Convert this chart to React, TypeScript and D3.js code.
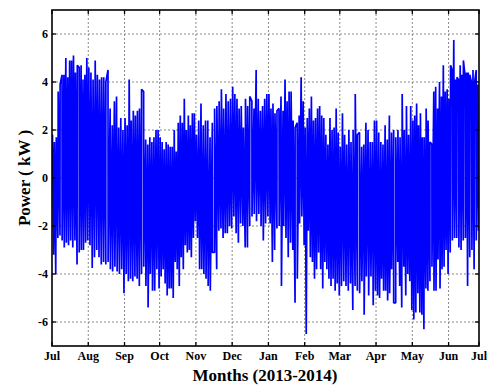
import React from 'react';
import * as d3 from 'd3';

// month ticks (days from 1 Jul 2013)
const monthLabels = ['Jul', 'Aug', 'Sep', 'Oct', 'Nov', 'Dec', 'Jan', 'Feb', 'Mar', 'Apr', 'May', 'Jun', 'Jul'];
const monthStartDays = [0, 31, 62, 92, 123, 154, 185, 216, 246, 277, 308, 339, 365];
const yTickValues = [-6, -4, -2, 0, 2, 4, 6];

// upper swings (kW)
const peaks = [
  [1.8, 1.5, 1.7, 3.6, 3.9, 4.3, 4.3, 5.0, 4.2, 4.9, 4.9, 5.1, 4.4, 4.7, 4.6, 4.7, 4.1, 4.3, 5.0], // Jul
  [4.6, 4.4, 4.1, 4.9, 4.3, 4.1, 4.2, 4.2, 4.0, 4.5, 2.9, 2.2, 3.2, 3.4, 2.1, 2.5, 2.0], // Aug
  [2.5, 2.2, 4.1, 2.4, 2.8, 2.6, 2.8, 2.9, 3.7, 3.6, 1.6, 1.4, 1.7, 1.5, 1.7, 2.0, 2.0], // Sep
  [1.7, 1.5, 1.2, 1.5, 1.4, 1.3, 1.3, 2.0, 1.1, 2.3, 2.6, 2.3, 3.3, 2.0, 2.6, 2.2, 2.7, 2.7], // Oct
  [1.8, 2.4, 3.1, 2.2, 2.4, 2.4, 1.7, 2.3, 2.9, 3.0, 3.2, 3.7, 2.9, 3.5, 3.2, 3.3], // Nov
  [3.8, 3.5, 3.3, 2.9, 3.0, 2.1, 3.3, 3.0, 3.4, 3.2, 2.9, 4.5, 3.3, 2.8, 3.0, 3.3, 3.5], // Dec
  [3.5, 2.9, 3.1, 2.7, 2.8, 2.9, 3.4, 2.8, 4.1, 3.2, 3.6, 3.6, 2.4, 2.1, 2.3, 2.6, 4.2, 3.2], // Jan
  [2.1, 2.5, 2.9, 3.4, 2.4, 2.5, 2.9, 3.0, 2.6, 2.5, 1.8, 1.4, 2.5, 2.0, 2.1, 2.9, 1.9], // Feb
  [1.3, 2.7, 1.8, 1.4, 2.0, 1.5, 2.0, 3.5, 1.8, 1.9, 1.3, 1.4, 2.3, 2.0, 1.5, 1.5, 2.4], // Mar
  [2.4, 1.9, 1.5, 1.4, 2.2, 1.6, 2.6, 1.9, 2.0, 1.7, 2.0, 1.7, 3.5, 2.0, 3.0, 1.8, 3.0], // Apr
  [2.4, 2.6, 3.1, 2.2, 2.7, 1.7, 1.7, 2.9, 2.4, 1.5, 1.4, 3.6, 3.8, 2.9, 4.0, 3.4, 4.7, 3.6, 3.7], // May
  [3.3, 4.7, 4.5, 5.75, 4.1, 4.2, 4.1, 4.7, 4.3, 4.9, 4.3, 4.4, 4.4, 4.3, 4.0, 4.5, 4.0, 4.5, 3.9], // Jun
];

// lower swings (kW)
const troughs = [
  [-3.2, -4.0, -2.5, -2.4, -2.6, -2.9, -2.7, -2.8, -2.6, -2.9, -2.6, -3.6, -3.1, -3.0, -3.0, -2.7, -2.6], // Jul
  [-2.8, -3.75, -3.3, -3.0, -3.3, -3.6, -3.5, -3.6, -3.5, -3.8, -3.9, -3.7, -3.9, -4.0, -3.8, -4.8], // Aug
  [-4.0, -4.3, -4.2, -4.3, -4.1, -4.2, -4.5, -4.0, -3.7, -4.5, -5.4, -4.0, -4.7, -4.7, -3.8, -4.6], // Sep
  [-4.1, -3.8, -4.4, -4.9, -4.6, -4.6, -5.0, -3.5, -3.8, -4.5, -3.3, -3.8, -2.8, -3.1, -3.0, -3.3, -2.5, -1.8], // Oct
  [-2.5, -3.8, -3.8, -4.0, -4.2, -4.5, -4.7, -3.1, -3.1, -3.8, -2.2, -2.1, -2.5, -2.3, -2.3, -2.0, -2.1], // Nov
  [-1.6, -2.3, -2.7, -1.9, -2.0, -2.9, -2.9, -2.0, -1.6, -1.5, -1.8, -1.5, -2.0, -2.6, -1.9, -1.6], // Dec
  [-1.9, -3.5, -3.0, -2.1, -2.0, -4.5, -2.0, -2.5, -3.3, -2.7, -3.0, -5.2, -4.2, -1.9, -1.6, -2.8], // Jan
  [-6.5, -2.2, -3.3, -3.5, -4.2, -3.8, -3.1, -3.8, -4.6, -3.5, -3.8, -4.2, -4.5, -4.2, -4.7, -4.4, -4.9], // Feb
  [-4.5, -4.3, -4.5, -4.7, -4.4, -5.5, -4.5, -4.7, -4.8, -4.3, -5.7, -4.1, -4.9, -4.1, -5.3, -4.7], // Mar
  [-4.9, -5.0, -4.2, -4.7, -4.7, -5.1, -4.8, -3.8, -5.2, -5.2, -3.5, -4.5, -5.4, -3.7, -4.9, -4.0, -4.3, -5.5], // Apr
  [-5.9, -5.6, -4.8, -5.6, -5.7, -6.3, -4.6, -4.7, -4.3, -3.7, -4.7, -4.7, -3.4, -4.6, -3.8, -3.7, -3.0, -4.0], // May
  [-3.1, -2.6, -2.5, -2.5, -2.9, -3.0, -2.6, -2.5, -4.5, -3.3, -3.0, -3.8, -2.6, -2.2], // Jun
];

const W = 487, H = 386;
const left = 52, right = 479, top = 10, bottom = 346;
const font = '"Liberation Serif", "Times New Roman", serif';

type Sample = { t: number; v: number };

export default function App() {
  const x = d3.scaleLinear().domain([0, 365]).range([left, right]);
  const y = d3.scaleLinear().domain([-7, 7]).range([bottom, top]);

  const samples: Sample[] = [];
  monthStartDays.slice(0, 12).forEach((s, m) => {
    const e = monthStartDays[m + 1];
    peaks[m].forEach((v, i) => samples.push({ t: s + ((i + 0.25) / peaks[m].length) * (e - s), v }));
    troughs[m].forEach((v, i) => samples.push({ t: s + ((i + 0.75) / troughs[m].length) * (e - s), v }));
  });
  samples.sort((a, b) => a.t - b.t);
  samples.unshift({ t: 0, v: 1.0 });
  samples.push({ t: 365, v: 0.5 });

  const line = d3.line<Sample>().x(d => x(d.t)).y(d => y(d.v));

  return (
    <svg width={W} height={H} style={{ position: 'absolute', left: 0, top: 0, background: '#fff' }}>
      <defs>
        <clipPath id="plot">
          <rect x={left} y={top} width={right - left} height={bottom - top} />
        </clipPath>
      </defs>

      {/* grid */}
      <g stroke="#8a8a8a" strokeWidth={1} strokeDasharray="2,2">
        {monthStartDays.slice(1, 12).map(d => (
          <line key={'gx' + d} x1={x(d)} x2={x(d)} y1={top} y2={bottom} />
        ))}
        {yTickValues.map(v => (
          <line key={'gy' + v} x1={left} x2={right} y1={y(v)} y2={y(v)} />
        ))}
      </g>

      <path d={line(samples) || ''} fill="none" stroke="#0000ff" strokeWidth={1.7}
        strokeLinejoin="bevel" clipPath="url(#plot)" />

      {/* frame and inward ticks */}
      <rect x={left} y={top} width={right - left} height={bottom - top} fill="none" stroke="#000" strokeWidth={1.6} />
      <g stroke="#000" strokeWidth={1.3}>
        {monthStartDays.map(d => (
          <g key={'tx' + d}>
            <line x1={x(d)} x2={x(d)} y1={bottom} y2={bottom - 4} />
            <line x1={x(d)} x2={x(d)} y1={top} y2={top + 4} />
          </g>
        ))}
        {yTickValues.map(v => (
          <g key={'ty' + v}>
            <line x1={left} x2={left + 4} y1={y(v)} y2={y(v)} />
            <line x1={right} x2={right - 4} y1={y(v)} y2={y(v)} />
          </g>
        ))}
      </g>

      {/* tick labels */}
      <g fontFamily={font} fontWeight="bold" fontSize={12} fill="#000">
        {monthStartDays.map((d, i) => (
          <text key={'lx' + i} x={x(d)} y={bottom + 14} textAnchor="middle">{monthLabels[i]}</text>
        ))}
        {yTickValues.map(v => (
          <text key={'ly' + v} x={left - 4} y={y(v)} dy="0.35em" textAnchor="end">{v}</text>
        ))}
      </g>

      <text x={265} y={381} textAnchor="middle" fontFamily={font} fontWeight="bold" fontSize={17}>
        Months (2013-2014)
      </text>
      <text transform={`translate(30,${(top + bottom) / 2}) rotate(-90)`} textAnchor="middle"
        fontFamily={font} fontWeight="bold" fontSize={17}>
        Power ( kW )
      </text>
    </svg>
  );
}
